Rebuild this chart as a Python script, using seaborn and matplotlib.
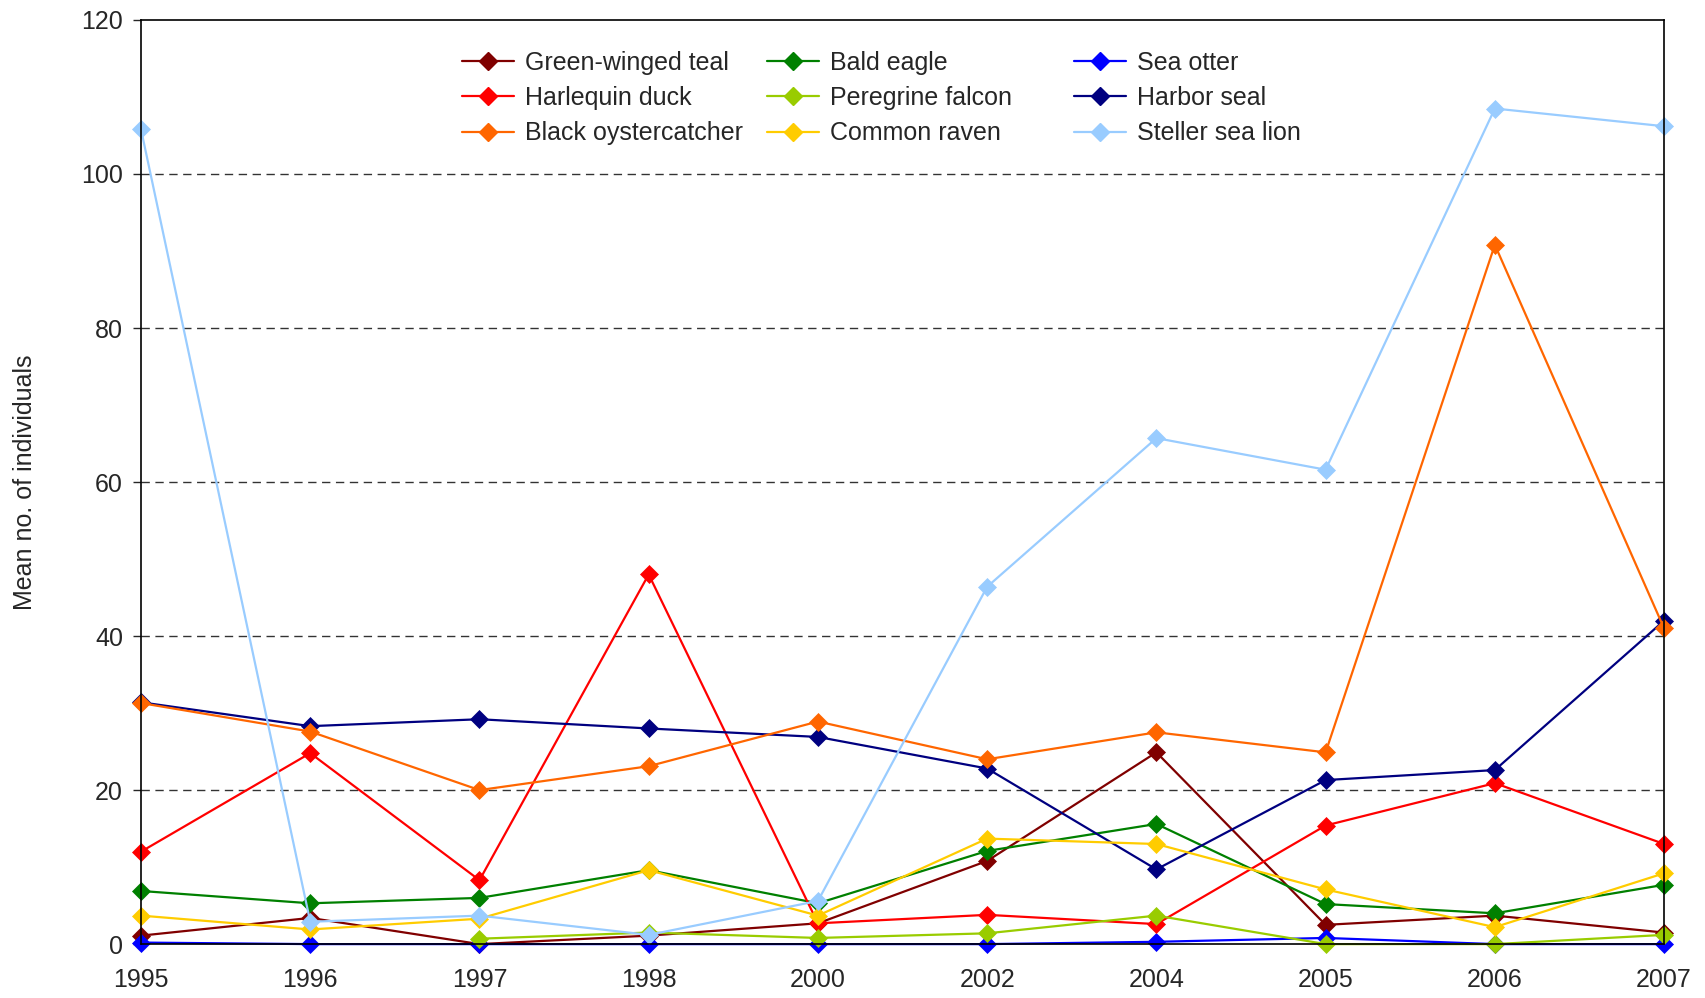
import numpy as np
import pandas as pd
import matplotlib
matplotlib.use('Agg')
import matplotlib.pyplot as plt
import seaborn as sns
from matplotlib.lines import Line2D

# Survey years (equally spaced categories on the x axis)
years = ['1995', '1996', '1997', '1998', '2000', '2002', '2004', '2005', '2006', '2007']

# Mean no. of individuals per species
green_winged_teal = [1.1, 3.4, 0.0, 1.1, 2.7, 10.8, 24.9, 2.5, 3.7, 1.5]
bald_eagle = [6.9, 5.3, 6.0, 9.6, 5.3, 12.1, 15.6, 5.2, 4.0, 7.7]
sea_otter = [0.2, 0.0, 0.0, 0.0, 0.0, 0.0, 0.3, 0.8, 0.0, 0.0]
harlequin_duck = [12.0, 24.8, 8.3, 48.0, 2.7, 3.8, 2.6, 15.4, 20.9, 13.0]
peregrine_falcon = [np.nan, np.nan, 0.7, 1.5, 0.8, 1.4, 3.7, 0.0, 0.0, 1.2]
harbor_seal = [31.4, 28.3, 29.2, 28.0, 26.9, 22.8, 9.7, 21.3, 22.6, 42.0]
black_oystercatcher = [31.3, 27.6, 20.0, 23.1, 28.9, 24.0, 27.5, 24.9, 90.8, 41.0]
common_raven = [3.7, 1.9, 3.3, 9.6, 3.7, 13.7, 13.0, 7.1, 2.2, 9.2]
steller_sea_lion = [105.8, 2.9, 3.7, 1.2, 5.6, 46.4, 65.7, 61.6, 108.5, 106.2]

# drawing order (later ones on top), names and colours
series = {
    'Green-winged teal': green_winged_teal,
    'Bald eagle': bald_eagle,
    'Sea otter': sea_otter,
    'Harlequin duck': harlequin_duck,
    'Peregrine falcon': peregrine_falcon,
    'Harbor seal': harbor_seal,
    'Black oystercatcher': black_oystercatcher,
    'Common raven': common_raven,
    'Steller sea lion': steller_sea_lion,
}
colors = {
    'Green-winged teal': '#800000',
    'Bald eagle': '#008000',
    'Sea otter': '#0000FF',
    'Harlequin duck': '#FF0000',
    'Peregrine falcon': '#99CC00',
    'Harbor seal': '#000080',
    'Black oystercatcher': '#FF6600',
    'Common raven': '#FFCC00',
    'Steller sea lion': '#99CCFF',
}

frames = []
for name, vals in series.items():
    frames.append(pd.DataFrame({'pos': np.arange(len(years)), 'value': vals, 'species': name}))
df = pd.concat(frames, ignore_index=True).dropna()

sns.set_style('white')
plt.rcParams['font.family'] = ['Liberation Sans', 'DejaVu Sans']

fig = plt.figure(figsize=(17.05, 9.98), dpi=100)
ax = fig.add_axes([0.0827, 0.054, 0.8933, 0.926])

sns.lineplot(data=df, x='pos', y='value', hue='species', hue_order=list(series.keys()),
             palette=colors, marker='D', markersize=9, linewidth=1.6,
             errorbar=None, legend=False, clip_on=False, ax=ax)
for line in ax.lines:
    line.set_markeredgecolor(line.get_color())
    line.set_markeredgewidth(0.5)

ax.set_xlim(0, len(years) - 1)
ax.set_ylim(0, 120)
ax.set_xticks(np.arange(len(years)))
ax.set_xticklabels(years)
ax.set_yticks(np.arange(0, 121, 20))
ax.set_xlabel('')
ax.set_ylabel('Mean no. of individuals', fontsize=18)
ax.yaxis.set_label_coords(-0.068, 0.5)

for y in range(20, 120, 20):
    ax.axhline(y, color='#333333', linewidth=1.0, linestyle=(0, (6, 4)), zorder=0)

for sp in ax.spines.values():
    sp.set_color('black')
    sp.set_linewidth(1.2)
ax.tick_params(axis='y', direction='out', length=6, width=1.0, pad=7, labelsize=18, left=True)
ax.tick_params(axis='x', length=0, pad=17, labelsize=18)

# three legend columns of equal width, as in the original
cols = [['Green-winged teal', 'Harlequin duck', 'Black oystercatcher'],
        ['Bald eagle', 'Peregrine falcon', 'Common raven'],
        ['Sea otter', 'Harbor seal', 'Steller sea lion']]
col_x = [0.271, 0.450, 0.630]
for names, x0 in zip(cols, col_x):
    handles = [Line2D([], [], color=colors[n], marker='D', markersize=9, linewidth=1.6,
                      markeredgecolor=colors[n]) for n in names]
    leg = fig.legend(handles, names, loc='upper left', bbox_to_anchor=(x0, 0.949),
                     frameon=False, fontsize=18, borderpad=0, handlelength=2.08,
                     handletextpad=0.42, labelspacing=0.45, borderaxespad=0)

fig.savefig('out.png', dpi=100)
